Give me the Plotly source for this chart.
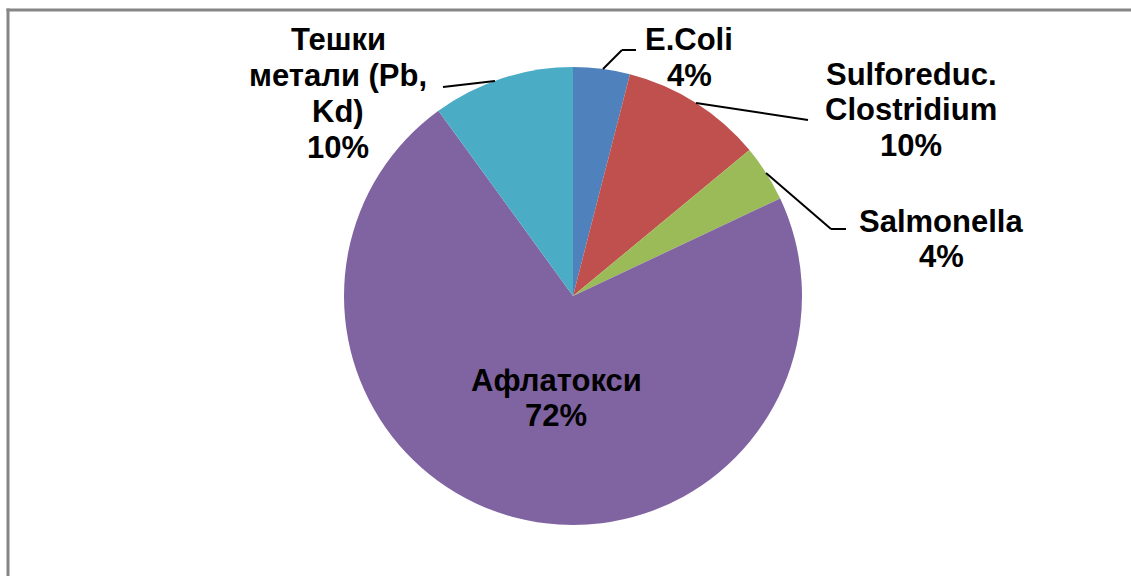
import plotly.graph_objects as go

# Data
categories = ["E.Coli", "Sulforeduc. Clostridium", "Salmonella", "Афлатокси", "Тешки метали (Pb, Kd)"]
label_lines = [["E.Coli"], ["Sulforeduc.", "Clostridium"], ["Salmonella"], ["Афлатокси"],
               ["Тешки", "метали (Pb,", "Kd)"]]
values = [4, 10, 4, 72, 10]
colors = ["#4F81BD", "#C0504D", "#9BBB59", "#8064A2", "#4BACC6"]

W, H = 1131, 576

def px(x):
    return x / W

def py(y):
    return 1 - y / H

# pie geometry (pixels)
cx, cy, r = 573, 296, 229

fig = go.Figure()
fig.add_trace(go.Pie(
    labels=categories,
    values=values,
    marker=dict(colors=colors, line=dict(width=0)),
    sort=False,
    direction="clockwise",
    rotation=0,
    textinfo="none",
    hoverinfo="label+percent",
    showlegend=False,
    domain=dict(x=[px(cx - r), px(cx + r)], y=[py(cy + r), py(cy - r)]),
))

# label positions (pixels: centre x, first line y), line step
label_pos = [(689, 40), (911, 74), (941, 221), (556, 380), (338, 40)]
step = 35.7
total = sum(values)
annotations = []
for lines, v, (x, y0) in zip(label_lines, values, label_pos):
    all_lines = lines + [f"{round(100 * v / total)}%"]
    for i, ln in enumerate(all_lines):
        annotations.append(dict(
            text=f"<b>{ln}</b>",
            x=px(x), y=py(y0 + i * step), xref="paper", yref="paper",
            xanchor="center", yanchor="middle", showarrow=False, align="center",
            font=dict(family="Liberation Sans, Arial, sans-serif", size=31, color="black"),
        ))

# leader lines (pixels)
leaders = [
    [(603, 69), (622, 50), (636, 50)],
    [(696, 103), (808, 120)],
    [(766, 173), (831, 229), (846, 229)],
    [(495, 81), (443, 87)],
]
shapes = []
for pts in leaders:
    for (x0, y0), (x1, y1) in zip(pts[:-1], pts[1:]):
        shapes.append(dict(type="line", xref="paper", yref="paper",
                           x0=px(x0), y0=py(y0), x1=px(x1), y1=py(y1),
                           line=dict(color="black", width=2)))

# outer frame (top and left edges visible)
frame = dict(color="#868686", width=3)
shapes.append(dict(type="line", xref="paper", yref="paper",
                   x0=px(6.5), y0=py(10), x1=1.0, y1=py(10), line=frame))
shapes.append(dict(type="line", xref="paper", yref="paper",
                   x0=px(8), y0=py(8.5), x1=px(8), y1=0.0, line=frame))

fig.update_layout(
    width=W, height=H,
    margin=dict(l=0, r=0, t=0, b=0),
    paper_bgcolor="white",
    plot_bgcolor="white",
    annotations=annotations,
    shapes=shapes,
)

fig.write_html(
    "out.html", config={"displayModeBar": False},
    post_script=("document.body.style.margin='0';"
                 "document.body.style.overflow='hidden';"
                 "document.documentElement.style.overflow='hidden';"
                 "document.body.style.background='white';"),
)
